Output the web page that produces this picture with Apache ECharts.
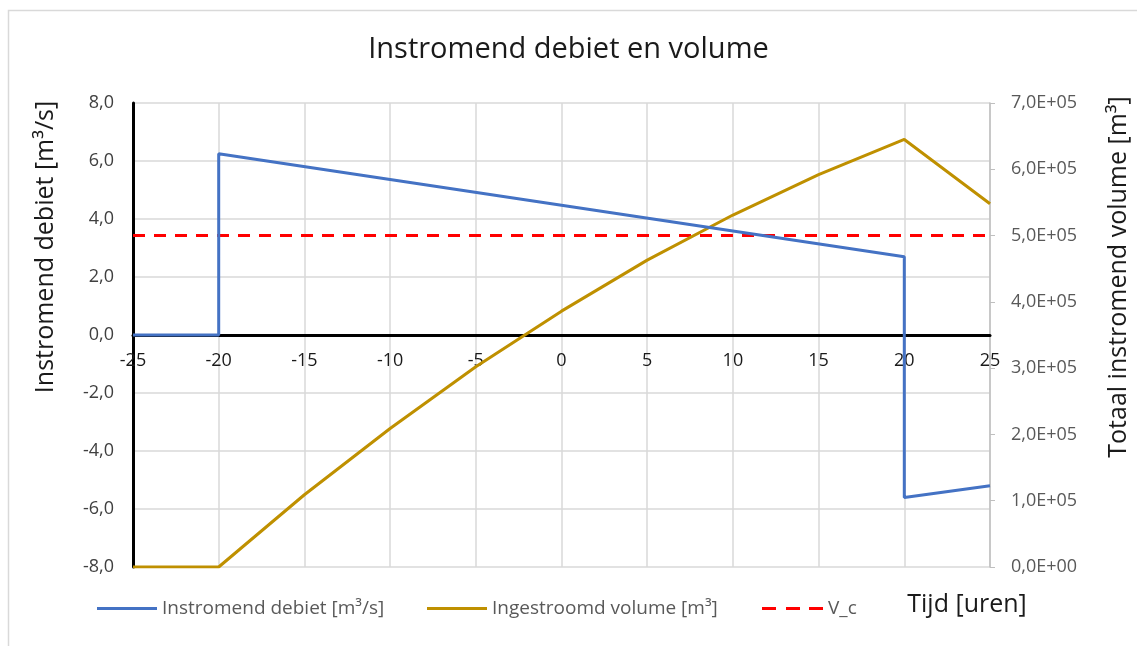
<!DOCTYPE html>
<html><head><meta charset="utf-8">
<script src="https://cdn.jsdelivr.net/npm/echarts@6/dist/echarts.min.js"></script>
<style>html,body{margin:0;padding:0;background:#fff}#c{width:1137px;height:646px}</style>
</head><body><div id="c"></div>
<script>
// Data
const debietTime = [-25, -20, -20, 20, 20, 25];
const debietValues = [0, 0, 6.25, 2.7, -5.6, -5.2];
const volumeTime = [-25, -20, -15, -10, -5, 0, 5, 10, 15, 20, 25];
const volumeValues = [0, 0, 109000, 209000, 302000, 386000, 463000, 531000, 592000, 645000, 548000];
const vcTime = [-25, 25];
const vcValues = [500000, 500000];
const seriesNames = ['Instromend debiet [m³/s]', 'Ingestroomd volume [m³]', 'V_c'];

const zip = (a, b) => a.map((v, i) => [v, b[i]]);
const FONT = 'Open Sans';
const legendText = {fontFamily: FONT, fontSize: 19, color: '#595959'};
const solidIcon = 'path://M0,0H60V3H0Z';
const dashIcon = 'path://M0,0H14V3H0Z M24,0H38V3H24Z M47,0H61V3H47Z';
const chart = echarts.init(document.getElementById('c'));
chart.setOption({
  animation: false,
  textStyle: {fontFamily: FONT},
  title: {
    text: 'Instromend debiet en volume', left: 'center', top: 30,
    textStyle: {fontFamily: FONT, fontSize: 29, fontWeight: 'normal', color: '#1a1a1a'}
  },
  grid: {left: 133, right: 147, top: 103, bottom: 79, containLabel: false},
  legend: [
    {data: [{name: seriesNames[0], icon: solidIcon}], left: 92, top: 594, itemWidth: 60, itemHeight: 3,
     itemGap: 7, textStyle: legendText},
    {data: [{name: seriesNames[1], icon: solidIcon}], left: 422, top: 594, itemWidth: 60, itemHeight: 3,
     textStyle: legendText},
    {data: [{name: seriesNames[2], icon: dashIcon}], left: 757, top: 594, itemWidth: 61, itemHeight: 3,
     textStyle: legendText}
  ],
  xAxis: {
    type: 'value', min: -25, max: 25, interval: 5, position: 'bottom', offset: -232,
    axisLine: {onZero: false, lineStyle: {color: '#000', width: 3}},
    axisTick: {show: false},
    axisLabel: {color: '#1a1a1a', fontSize: 18, margin: 17},
    splitLine: {show: true, lineStyle: {color: '#d9d9d9', width: 1.5}}
  },
  yAxis: [
    {
      type: 'value', min: -8, max: 8, interval: 2,
      axisLine: {show: true, onZero: false, lineStyle: {color: '#000', width: 3}},
      axisTick: {show: false},
      axisLabel: {color: '#404040', fontSize: 18, margin: 19,
        formatter: v => v.toFixed(1).replace('.', ',')},
      splitLine: {show: true, lineStyle: {color: '#d9d9d9', width: 1.5}}
    },
    {
      type: 'value', min: 0, max: 700000, interval: 100000, position: 'right',
      axisLine: {show: true, onZero: false, lineStyle: {color: '#bfbfbf', width: 1.5}},
      axisTick: {show: true, length: 5, lineStyle: {color: '#bfbfbf'}},
      axisLabel: {color: '#595959', fontSize: 18, margin: 21,
        formatter: v => v === 0 ? '0,0E+00' : (v / 100000).toFixed(1).replace('.', ',') + 'E+05'},
      splitLine: {show: false}
    }
  ],
  series: [
    {name: seriesNames[0], type: 'line', yAxisIndex: 0, data: zip(debietTime, debietValues),
     symbol: 'none', lineStyle: {color: '#4472C4', width: 3}, itemStyle: {color: '#4472C4'}, z: 4},
    {name: seriesNames[1], type: 'line', yAxisIndex: 1, data: zip(volumeTime, volumeValues),
     symbol: 'none', lineStyle: {color: '#BF9000', width: 3}, itemStyle: {color: '#BF9000'}, z: 3},
    {name: seriesNames[2], type: 'line', yAxisIndex: 1, data: zip(vcTime, vcValues),
     symbol: 'none', lineStyle: {color: '#FF0000', width: 3, type: [12, 9]}, itemStyle: {color: '#FF0000'}, z: 2}
  ],
  graphic: [
    {type: 'rect', shape: {x: 8.5, y: 10.5, width: 1140, height: 640}, silent: true, z: -10,
     style: {fill: 'none', stroke: '#d9d9d9', lineWidth: 1.5}},
    {type: 'text', x: 46, y: 247, rotation: Math.PI / 2,
     style: {text: 'Instromend debiet [m³/s]', fontFamily: FONT, fontSize: 25, fill: '#1a1a1a',
       align: 'center', verticalAlign: 'middle'}},
    {type: 'text', x: 1119, y: 277, rotation: Math.PI / 2,
     style: {text: 'Totaal instromend volume [m³]', fontFamily: FONT, fontSize: 25, fill: '#1a1a1a',
       align: 'center', verticalAlign: 'middle'}},
    {type: 'text', x: 967, y: 605,
     style: {text: 'Tijd [uren]', fontFamily: FONT, fontSize: 25, fill: '#1a1a1a',
       align: 'center', verticalAlign: 'middle'}}
  ]
});
</script></body></html>
